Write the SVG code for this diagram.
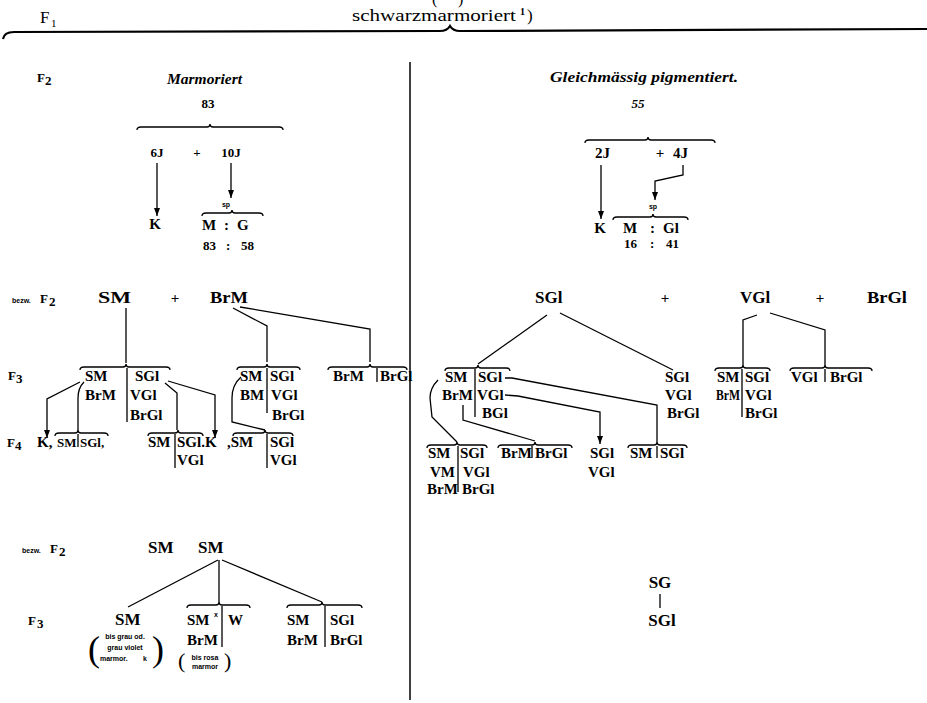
<svg xmlns="http://www.w3.org/2000/svg" width="927" height="703" viewBox="0 0 927 703">
<style>
text{fill:#000}
.s{font-family:"Liberation Serif",serif}
.l{font-family:"Liberation Serif",serif;font-weight:bold;font-size:15px}
.L{font-family:"Liberation Serif",serif;font-weight:bold;font-size:17px}
.m{font-family:"Liberation Serif",serif;font-weight:bold;font-size:13px}
.sm{font-family:"Liberation Sans",sans-serif;font-weight:bold;font-size:7px}
.it{font-family:"Liberation Serif",serif;font-style:italic;font-weight:bold;font-size:14px}
.br{fill:none;stroke:#000;stroke-width:1.3}
.ln{fill:none;stroke:#000;stroke-width:1.3}
.ar{fill:none;stroke:#000;stroke-width:1.3;marker-end:url(#ah)}
</style>
<defs>
<marker id="ah" viewBox="0 0 8 6" refX="8" refY="3" markerWidth="8" markerHeight="6" markerUnits="userSpaceOnUse" orient="auto"><path d="M0,0 L8,3 L0,6 z" fill="#000"/></marker>
</defs>
<rect width="927" height="703" fill="#fff"/>

<g id="header">
<text class="s" x="40" y="23" font-size="17">F</text><text class="s" x="51" y="27" font-size="11">1</text>
<text class="s" x="352" y="21" font-size="17" textLength="164" lengthAdjust="spacingAndGlyphs">schwarzmarmoriert</text>
<text class="s" x="520" y="15" font-size="10" font-weight="bold">1</text><text class="s" x="527" y="21" font-size="17">)</text>
<text class="s" x="432" y="4" font-size="16">(</text><text class="s" x="458" y="4" font-size="16">)</text>
<path d="M3,39 Q4,32 14,32 L440,31 Q447,31 450,26 Q453,31 460,31 L927,29" fill="none" stroke="#000" stroke-width="2.2"/>
</g>

<line id="divider" x1="410" y1="62" x2="410" y2="700" stroke="#000" stroke-width="1.5"/>

<g id="left-f2">
<text class="m" x="37" y="82">F</text><text class="m" x="45" y="85" font-size="8">2</text>
<text class="it" x="167" y="84" font-size="13" textLength="75" lengthAdjust="spacingAndGlyphs">Marmoriert</text>
<text class="m" x="208" y="108" text-anchor="middle">83</text>
<text class="m" x="157" y="157" text-anchor="middle">6J</text>
<text class="m" x="197" y="157" text-anchor="middle">+</text>
<text class="m" x="231" y="157" text-anchor="middle">10J</text>
<text class="l" x="155" y="229" text-anchor="middle">K</text>
<text class="sm" x="226" y="207" text-anchor="middle" font-size="8">sp</text>
<text class="l" x="202" y="230">M</text><text class="l" x="224" y="230">:</text><text class="l" x="237" y="230">G</text>
<text class="m" x="203" y="250">83</text><text class="m" x="226" y="250">:</text><text class="m" x="241" y="250">58</text>
</g>

<g id="right-f2">
<text class="it" x="550" y="82" textLength="188" lengthAdjust="spacingAndGlyphs">Gleichmässig  pigmentiert.</text>
<text class="m" x="638" y="108" text-anchor="middle" font-style="italic">55</text>
<text class="l" x="595" y="158">2J</text>
<text class="l" x="660" y="158" text-anchor="middle">+</text>
<text class="l" x="673" y="158">4J</text>
<text class="l" x="600" y="233" text-anchor="middle">K</text>
<text class="sm" x="653" y="209" text-anchor="middle" font-size="8">sp</text>
<text class="l" x="623" y="233">M</text><text class="l" x="650" y="233">:</text><text class="l" x="663" y="233">Gl</text>
<text class="m" x="624" y="248" font-size="11">16</text><text class="m" x="650" y="248" font-size="11">:</text><text class="m" x="666" y="248" font-size="11">41</text>
</g>

<g id="left-f2-cross">
<text class="sm" x="12" y="303" font-size="8">bezw.</text>
<text class="m" x="40" y="303" font-size="14">F</text><text class="m" x="49" y="306" font-size="8">2</text>
<text class="L" x="98" y="303" textLength="33" lengthAdjust="spacingAndGlyphs">SM</text>
<text class="l" x="175" y="303" text-anchor="middle">+</text>
<text class="L" x="210" y="303" textLength="38" lengthAdjust="spacingAndGlyphs">BrM</text>
</g>

<g id="left-f3">
<text class="m" x="8" y="380">F</text><text class="m" x="16" y="383" font-size="8">3</text>
<text class="l" x="85" y="381">SM</text>
<text class="l" x="135" y="381">SGl</text>
<text class="l" x="85" y="400">BrM</text>
<text class="l" x="130" y="400">VGl</text>
<text class="l" x="130" y="420">BrGl</text>
<text class="l" x="240" y="381">SM</text>
<text class="l" x="270" y="381">SGl</text>
<text class="l" x="240" y="400">BM</text>
<text class="l" x="271" y="400">VGl</text>
<text class="l" x="272" y="420">BrGl</text>
<text class="l" x="333" y="381">BrM</text>
<text class="l" x="380" y="381" font-size="14">BrGl</text>
</g>

<g id="left-f4">
<text class="m" x="7" y="447">F</text><text class="m" x="15" y="450" font-size="8">4</text>
<text class="l" x="37" y="447">K,</text>
<text class="m" x="57" y="447">SM</text>
<text class="m" x="80" y="447">SGl,</text>
<text class="l" x="148" y="447">SM</text>
<text class="l" x="177" y="447">SGl.K</text>
<text class="l" x="177" y="465">VGl</text>
<text class="l" x="227" y="447">,SM</text>
<text class="l" x="270" y="447">SGl</text>
<text class="l" x="270" y="465">VGl</text>
</g>

<g id="right-f2-cross">
<text class="L" x="535" y="303">SGl</text>
<text class="l" x="665" y="303" text-anchor="middle">+</text>
<text class="L" x="740" y="303">VGl</text>
<text class="l" x="820" y="303" text-anchor="middle">+</text>
<text class="L" x="867" y="303" textLength="40" lengthAdjust="spacingAndGlyphs">BrGl</text>
</g>

<g id="right-f3">
<text class="l" x="445" y="382">SM</text>
<text class="l" x="478" y="382">SGl</text>
<text class="l" x="442" y="400">BrM</text>
<text class="l" x="477" y="400">VGl</text>
<text class="l" x="482" y="418">BGl</text>
<text class="l" x="665" y="382">SGl</text>
<text class="l" x="665" y="400">VGl</text>
<text class="l" x="667" y="418">BrGl</text>
<text class="l" x="717" y="382">SM</text>
<text class="l" x="745" y="382">SGl</text>
<text class="l" x="716" y="400" textLength="24" lengthAdjust="spacingAndGlyphs">BrM</text>
<text class="l" x="745" y="400">VGl</text>
<text class="l" x="745" y="418">BrGl</text>
<text class="l" x="791" y="382">VGl</text>
<text class="l" x="830" y="382">BrGl</text>
</g>

<g id="right-f4">
<text class="l" x="428" y="458">SM</text>
<text class="l" x="460" y="458">SGl</text>
<text class="l" x="430" y="477" font-size="13">VM</text>
<text class="l" x="463" y="477">VGl</text>
<text class="l" x="427" y="494" font-size="13">BrM</text>
<text class="l" x="462" y="494" font-size="14">BrGl</text>
<text class="l" x="501" y="458">BrM</text>
<text class="l" x="535" y="458">BrGl</text>
<text class="l" x="590" y="458">SGl</text>
<text class="l" x="588" y="477">VGl</text>
<text class="l" x="630" y="458">SM</text>
<text class="l" x="660" y="458">SGl</text>
</g>

<g id="left-bottom">
<text class="sm" x="22" y="553" font-size="8">bezw.</text>
<text class="m" x="50" y="553" font-size="14">F</text><text class="m" x="59" y="556" font-size="8">2</text>
<text class="L" x="148" y="553" font-size="16">SM</text>
<text class="L" x="198" y="553" font-size="16">SM</text>
<text class="m" x="28" y="625" font-size="14">F</text><text class="m" x="37" y="628" font-size="8">3</text>
<text class="L" x="115" y="625" font-size="16">SM</text>
<text class="s" x="88" y="661" font-size="36">(</text>
<text class="s" x="152" y="661" font-size="36">)</text>
<text class="sm" x="125" y="639" text-anchor="middle">bis grau od.</text>
<text class="sm" x="125" y="650" text-anchor="middle">grau violet</text>
<text class="sm" x="100" y="661">marmor.</text>
<text class="sm" x="143" y="661" font-size="9">k</text>
<text class="l" x="187" y="625">SM</text><text class="sm" x="214" y="617" font-size="8">x</text>
<text class="l" x="228" y="625">W</text>
<text class="l" x="187" y="645">BrM</text>
<text class="s" x="178" y="668" font-size="22">(</text>
<text class="s" x="224" y="668" font-size="22">)</text>
<text class="sm" x="205" y="660" text-anchor="middle" font-size="6">bis rosa</text>
<text class="sm" x="205" y="669" text-anchor="middle" font-size="6">marmor</text>
<text class="l" x="287" y="625">SM</text>
<text class="l" x="330" y="625">SGl</text>
<text class="l" x="287" y="645">BrM</text>
<text class="l" x="330" y="645">BrGl</text>
</g>

<g id="right-bottom">
<text class="L" x="660" y="588" text-anchor="middle" font-size="16">SG</text>
<text class="L" x="662" y="626" text-anchor="middle" font-size="16">SGl</text>
</g>

<g id="connectors">
<path class="br" d="M137,130 Q137,127 141,127 L207,127 Q210,127 210,124 Q210,127 213,127 L279,127 Q283,127 283,130"/>
<path class="br" d="M202,216 Q202,213 206,213 L229,213 Q232,213 232,210 Q232,213 235,213 L259,213 Q263,213 263,216"/>
<path class="br" d="M585,143 Q585,140 589,140 L645,140 Q648,140 648,137 Q648,140 651,140 L711,140 Q715,140 715,143"/>
<path class="br" d="M613,220 Q613,217 617,217 L650,217 Q653,217 653,214 Q653,217 656,217 L684,217 Q688,217 688,220"/>
<path class="br" d="M80,370 Q80,367 84,367 L123,367 Q126,367 126,364 Q126,367 129,367 L166,367 Q170,367 170,370"/>
<path class="br" d="M237,370 Q237,367 241,367 L264,367 Q267,367 267,364 Q267,367 270,367 L296,367 Q300,367 300,370"/>
<path class="br" d="M328,370 Q328,367 332,367 L367,367 Q370,367 370,364 Q370,367 373,367 L403,367 Q407,367 407,370"/>
<path class="br" d="M55,436 Q55,433 59,433 L75,433 Q78,433 78,430 Q78,433 81,433 L104,433 Q108,433 108,436"/>
<path class="br" d="M148,436 Q148,433 152,433 L175,433 Q178,433 178,430 Q178,433 181,433 L199,433 Q203,433 203,436"/>
<path class="br" d="M233,436 Q233,433 237,433 L262,433 Q265,433 265,430 Q265,433 268,433 L289,433 Q293,433 293,436"/>
<path class="br" d="M445,371 Q445,368 449,368 L475,368 Q478,368 478,365 Q478,368 481,368 L506,368 Q510,368 510,371"/>
<path class="br" d="M715,371 Q715,368 719,368 L740,368 Q743,368 743,365 Q743,368 746,368 L766,368 Q770,368 770,371"/>
<path class="br" d="M790,371 Q790,368 794,368 L822,368 Q825,368 825,365 Q825,368 828,368 L868,368 Q872,368 872,371"/>
<path class="br" d="M427,448 Q427,445 431,445 L454,445 Q457,445 457,442 Q457,445 460,445 L483,445 Q487,445 487,448"/>
<path class="br" d="M498,448 Q498,445 502,445 L532,445 Q535,445 535,442 Q535,445 538,445 L568,445 Q572,445 572,448"/>
<path class="br" d="M628,448 Q628,445 632,445 L654,445 Q657,445 657,442 Q657,445 660,445 L683,445 Q687,445 687,448"/>
<path class="br" d="M187,608 Q187,605 191,605 L216,605 Q219,605 219,602 Q219,605 222,605 L246,605 Q250,605 250,608"/>
<path class="br" d="M287,608 Q287,605 291,605 L319,605 Q322,605 322,602 Q322,605 325,605 L358,605 Q362,605 362,608"/>
<path class="ln" d="M127,368 V422 M267,368 V413 M377,368 V382 M78,434 V447 M175,434 V468 M267,434 V468 M475,369 V417 M742,369 V417 M825,369 V382 M458,446 V492 M532,446 V458 M657,446 V458 M222,606 V647 M325,606 V647"/>
<path class="ar" d="M157,163 V216"/>
<path class="ar" d="M231,163 V198"/>
<path class="ar" d="M601,165 V219"/>
<path class="ar" d="M683,165 V175 L655,181 V200"/>
<path class="ln" d="M126,308 V363"/>
<path class="ln" d="M233,308 L267,326 V362"/>
<path class="ln" d="M240,307 L370,329 V362"/>
<path class="ar" d="M80,382 L47,399 V438"/>
<path class="ln" d="M84,382 Q78,388 78,398 V430"/>
<path class="ln" d="M165,383 L177,393 V430"/>
<path class="ar" d="M168,381 L215,395 V438"/>
<path class="ln" d="M241,377 Q232,385 232,398 V422 L265,430"/>
<path class="ln" d="M547,315 L478,364"/>
<path class="ln" d="M560,313 L673,370"/>
<path class="ln" d="M757,315 L743,320 V365"/>
<path class="ln" d="M770,313 L825,330 V365"/>
<path class="ln" d="M505,378 L512,378 L657,405 V442"/>
<path class="ar" d="M505,395 L518,396 L600,412 V444"/>
<path class="ln" d="M463,405 V420 L535,441"/>
<path class="ln" d="M438,380 Q430,388 430,398 L432,417 L457,442"/>
<path class="ln" d="M218,560 L128,607"/>
<path class="ln" d="M219,560 V602"/>
<path class="ln" d="M222,560 L322,602"/>
<path class="ln" d="M660,594 V608"/>
</g>
</svg>
